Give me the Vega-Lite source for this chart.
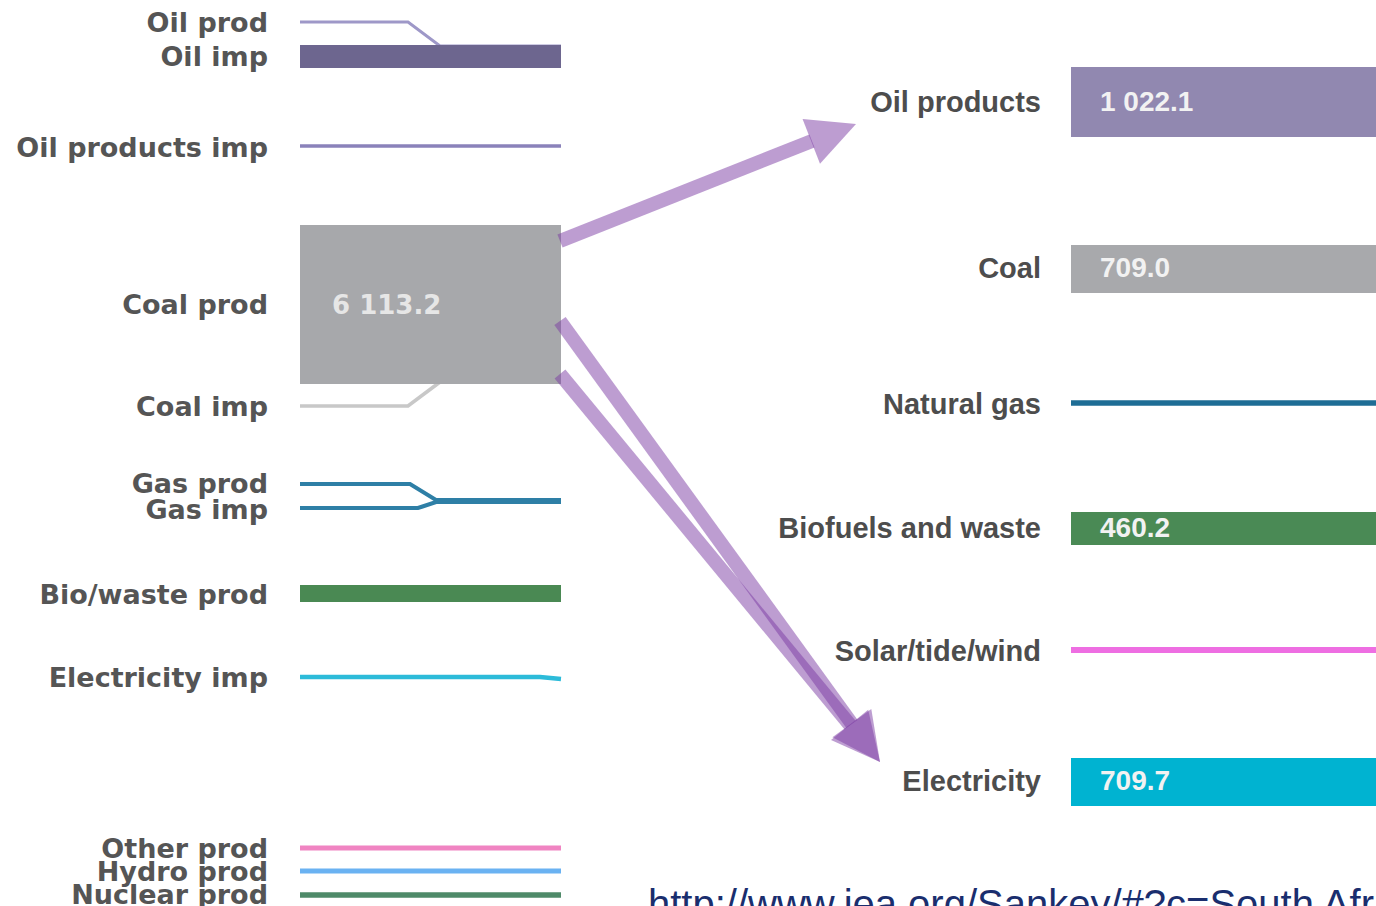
{
  "$schema": "https://vega.github.io/schema/vega-lite/v6.json",
  "width": 1376,
  "height": 906,
  "autosize": {"type": "none"},
  "padding": 0,
  "background": "white",
  "config": {"view": {"stroke": null}},
  "datasets": {
    "paths": [
      {"s": "Oil prod", "o": 1, "x": 300, "y": 22},
      {"s": "Oil prod", "o": 2, "x": 408, "y": 22},
      {"s": "Oil prod", "o": 3, "x": 440, "y": 46},
      {"s": "Oil prod", "o": 4, "x": 561, "y": 46},
      {"s": "Oil products imp", "o": 1, "x": 300, "y": 146},
      {"s": "Oil products imp", "o": 2, "x": 561, "y": 146},
      {"s": "Coal imp", "o": 1, "x": 300, "y": 406},
      {"s": "Coal imp", "o": 2, "x": 408, "y": 406},
      {"s": "Coal imp", "o": 3, "x": 440, "y": 382},
      {"s": "Gas prod", "o": 1, "x": 300, "y": 484},
      {"s": "Gas prod", "o": 2, "x": 410, "y": 484},
      {"s": "Gas prod", "o": 3, "x": 436, "y": 500},
      {"s": "Gas prod", "o": 4, "x": 561, "y": 500},
      {"s": "Gas imp", "o": 1, "x": 300, "y": 508},
      {"s": "Gas imp", "o": 2, "x": 418, "y": 508},
      {"s": "Gas imp", "o": 3, "x": 436, "y": 502},
      {"s": "Gas imp", "o": 4, "x": 561, "y": 502},
      {"s": "Electricity imp", "o": 1, "x": 300, "y": 677},
      {"s": "Electricity imp", "o": 2, "x": 540, "y": 677},
      {"s": "Electricity imp", "o": 3, "x": 561, "y": 679},
      {"s": "Other prod", "o": 1, "x": 300, "y": 848},
      {"s": "Other prod", "o": 2, "x": 561, "y": 848},
      {"s": "Hydro prod", "o": 1, "x": 300, "y": 871},
      {"s": "Hydro prod", "o": 2, "x": 561, "y": 871},
      {"s": "Nuclear prod", "o": 1, "x": 300, "y": 895},
      {"s": "Nuclear prod", "o": 2, "x": 561, "y": 895},
      {"s": "Natural gas", "o": 1, "x": 1071, "y": 403},
      {"s": "Natural gas", "o": 2, "x": 1376, "y": 403},
      {"s": "Solar/tide/wind", "o": 1, "x": 1071, "y": 650},
      {"s": "Solar/tide/wind", "o": 2, "x": 1376, "y": 650}
    ],
    "rects": [
      {"s": "Oil imp", "x0": 300, "x1": 561, "y0": 45, "y1": 68},
      {"s": "Coal prod", "x0": 300, "x1": 561, "y0": 225, "y1": 384},
      {"s": "Bio/waste prod", "x0": 300, "x1": 561, "y0": 585, "y1": 602},
      {"s": "Oil products", "x0": 1071, "x1": 1376, "y0": 67, "y1": 137},
      {"s": "Coal", "x0": 1071, "x1": 1376, "y0": 245, "y1": 293},
      {"s": "Biofuels and waste", "x0": 1071, "x1": 1376, "y0": 512, "y1": 545},
      {"s": "Electricity", "x0": 1071, "x1": 1376, "y0": 758, "y1": 806}
    ],
    "leftLabels": [
      {"t": "Oil prod", "x": 268, "y": 24},
      {"t": "Oil imp", "x": 268, "y": 58},
      {"t": "Oil products imp", "x": 268, "y": 149},
      {"t": "Coal prod", "x": 268, "y": 306},
      {"t": "Coal imp", "x": 268, "y": 408},
      {"t": "Gas prod", "x": 268, "y": 485},
      {"t": "Gas imp", "x": 268, "y": 511},
      {"t": "Bio/waste prod", "x": 268, "y": 596},
      {"t": "Electricity imp", "x": 268, "y": 679},
      {"t": "Other prod", "x": 268, "y": 850},
      {"t": "Hydro prod", "x": 268, "y": 873},
      {"t": "Nuclear prod", "x": 268, "y": 896}
    ],
    "rightLabels": [
      {"t": "Oil products", "x": 1041, "y": 103},
      {"t": "Coal", "x": 1041, "y": 269},
      {"t": "Natural gas", "x": 1041, "y": 405},
      {"t": "Biofuels and waste", "x": 1041, "y": 529},
      {"t": "Solar/tide/wind", "x": 1041, "y": 652},
      {"t": "Electricity", "x": 1041, "y": 782}
    ],
    "leftValues": [
      {"t": "6 113.2", "x": 332, "y": 306}
    ],
    "rightValues": [
      {"t": "1 022.1", "x": 1100, "y": 103},
      {"t": "709.0", "x": 1100, "y": 269},
      {"t": "460.2", "x": 1100, "y": 529},
      {"t": "709.7", "x": 1100, "y": 782}
    ],
    "shafts": [
      {"a": "to oil products", "x": 560, "y": 241, "x2": 812, "y2": 141},
      {"a": "to electricity 1", "x": 560, "y": 321, "x2": 852, "y2": 724},
      {"a": "to electricity 2", "x": 560, "y": 374, "x2": 850, "y2": 725}
    ],
    "heads": [
      {"a": "to oil products", "x": 856, "y": 124, "angle": 338.7},
      {"a": "to electricity 1", "x": 880, "y": 762, "angle": 54.1},
      {"a": "to electricity 2", "x": 880, "y": 762, "angle": 50.7}
    ],
    "url": [
      {"t": "http://www.iea.org/Sankey/#?c=South Africa&s=Balance", "x": 648, "y": 918}
    ]
  },
  "resolve": {"scale": {"color": "independent", "size": "independent"}},
  "layer": [
    {
      "data": {"name": "paths"},
      "mark": {"type": "line", "strokeCap": "butt", "strokeJoin": "miter"},
      "encoding": {
        "x": {"field": "x", "type": "quantitative", "scale": {"domain": [0, 1376], "nice": false, "zero": false}, "axis": null},
        "y": {"field": "y", "type": "quantitative", "scale": {"domain": [0, 906], "nice": false, "zero": false, "reverse": true}, "axis": null},
        "order": {"field": "o", "type": "quantitative"},
        "detail": {"field": "s", "type": "nominal"},
        "color": {
          "field": "s", "type": "nominal", "legend": null,
          "scale": {
            "domain": ["Oil prod", "Oil products imp", "Coal imp", "Gas prod", "Gas imp", "Electricity imp", "Other prod", "Hydro prod", "Nuclear prod", "Natural gas", "Solar/tide/wind"],
            "range": ["#9e98c8", "#8a82ba", "#c8c8c8", "#2e7fa6", "#2e7fa6", "#2cbbd9", "#f084c2", "#6ab2f2", "#4f8a69", "#1e6d95", "#ee6ee2"]
          }
        },
        "size": {
          "field": "s", "type": "nominal", "legend": null,
          "scale": {
            "domain": ["Oil prod", "Oil products imp", "Coal imp", "Gas prod", "Gas imp", "Electricity imp", "Other prod", "Hydro prod", "Nuclear prod", "Natural gas", "Solar/tide/wind"],
            "range": [3, 6, 3, 3, 3, 3, 5, 5, 5, 5, 4]
          }
        }
      }
    },
    {
      "data": {"name": "rects"},
      "mark": {"type": "rect"},
      "encoding": {
        "x": {"field": "x0", "type": "quantitative"},
        "x2": {"field": "x1"},
        "y": {"field": "y0", "type": "quantitative"},
        "y2": {"field": "y1"},
        "color": {
          "field": "s", "type": "nominal", "legend": null,
          "scale": {
            "domain": ["Oil imp", "Coal prod", "Bio/waste prod", "Oil products", "Coal", "Biofuels and waste", "Electricity"],
            "range": ["#6d668f", "#a7a8ab", "#4a8953", "#9188b0", "#a8a9ac", "#4a8a55", "#00b3d1"]
          }
        }
      }
    },
    {
      "data": {"name": "leftValues"},
      "mark": {"type": "text", "align": "left", "baseline": "middle", "font": "DejaVu Sans", "fontWeight": "bold", "fontSize": 26, "color": "#e6e6e6"},
      "encoding": {
        "x": {"field": "x", "type": "quantitative"},
        "y": {"field": "y", "type": "quantitative"},
        "text": {"field": "t"}
      }
    },
    {
      "data": {"name": "rightValues"},
      "mark": {"type": "text", "align": "left", "baseline": "middle", "font": "Liberation Sans", "fontWeight": "bold", "fontSize": 28, "color": "#f2f2f2"},
      "encoding": {
        "x": {"field": "x", "type": "quantitative"},
        "y": {"field": "y", "type": "quantitative"},
        "text": {"field": "t"}
      }
    },
    {
      "data": {"name": "leftLabels"},
      "mark": {"type": "text", "align": "right", "baseline": "middle", "font": "DejaVu Sans", "fontWeight": "bold", "fontSize": 27, "color": "#555555"},
      "encoding": {
        "x": {"field": "x", "type": "quantitative"},
        "y": {"field": "y", "type": "quantitative"},
        "text": {"field": "t"}
      }
    },
    {
      "data": {"name": "rightLabels"},
      "mark": {"type": "text", "align": "right", "baseline": "middle", "font": "Liberation Sans", "fontWeight": "bold", "fontSize": 29, "color": "#4d4d4d"},
      "encoding": {
        "x": {"field": "x", "type": "quantitative"},
        "y": {"field": "y", "type": "quantitative"},
        "text": {"field": "t"}
      }
    },
    {
      "data": {"name": "shafts"},
      "mark": {"type": "rule", "strokeWidth": 14, "strokeCap": "butt", "color": "#7b3ba3", "opacity": 0.5},
      "encoding": {
        "x": {"field": "x", "type": "quantitative"},
        "y": {"field": "y", "type": "quantitative"},
        "x2": {"field": "x2"},
        "y2": {"field": "y2"}
      }
    },
    {
      "data": {"name": "heads"},
      "mark": {"type": "point", "shape": "M0,0L-2,-1L-2,1Z", "filled": true, "size": 2304, "color": "#7b3ba3", "opacity": 0.5, "strokeWidth": 0},
      "encoding": {
        "x": {"field": "x", "type": "quantitative"},
        "y": {"field": "y", "type": "quantitative"},
        "angle": {"field": "angle", "type": "quantitative", "scale": null}
      }
    },
    {
      "data": {"name": "url"},
      "mark": {"type": "text", "align": "left", "baseline": "alphabetic", "font": "Liberation Sans", "fontSize": 40, "color": "#1a2e6e"},
      "encoding": {
        "x": {"field": "x", "type": "quantitative"},
        "y": {"field": "y", "type": "quantitative"},
        "text": {"field": "t"}
      }
    }
  ]
}
